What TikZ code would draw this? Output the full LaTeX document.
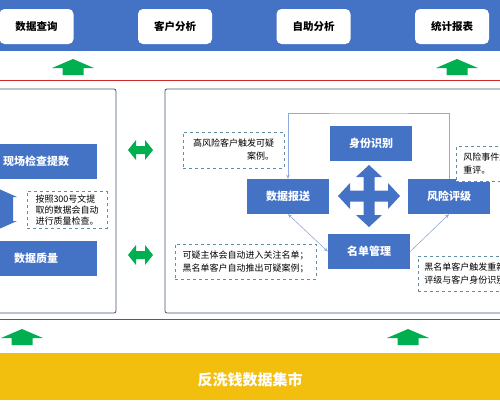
\documentclass[tikz,border=0pt]{standalone}
\usepackage{fontspec}
\setmainfont{Noto Sans CJK SC}
\usetikzlibrary{arrows.meta,positioning,calc}
\definecolor{amlblue}{HTML}{4472C4}
\definecolor{amlgreen}{HTML}{00B050}
\definecolor{amlyellow}{HTML}{F2BF0F}
\definecolor{amlred}{HTML}{D02A2A}
\definecolor{amlframe}{HTML}{44546A}
\definecolor{amlnote}{HTML}{5E8FA3}
\definecolor{amllink}{HTML}{8FAADC}
\tikzstyle{topbox} = [rectangle, fill=white, rounded corners=5pt, minimum width=74pt,
    minimum height=35pt, font=\fontsize{10.5}{12}\selectfont\bfseries]
\tikzstyle{block} = [rectangle, fill=amlblue, text=white, minimum width=82pt,
    minimum height=35pt, inner sep=0pt, font=\fontsize{11}{13}\selectfont\bfseries]
\tikzstyle{note} = [rectangle, draw=amlnote, dashed, thick, fill=white, minimum height=35pt,
    font=\fontsize{9}{13}\selectfont]
\tikzstyle{panel} = [draw=amlframe, thick, rounded corners=2pt]
\tikzstyle{link} = [amllink, semithick]
\tikzstyle{linktip} = [-{Stealth[length=4pt,width=3.5pt]}]

\begin{document}
\begin{tikzpicture}[x=1pt, y=-1pt]
\useasboundingbox (0,0) rectangle (500,400);
\clip (0,0) rectangle (500,400);

% top band
\fill[amlblue] (0,0) rectangle (500,51);
\node[topbox] (query) at (36.5,26.5) {数据查询};
\node[topbox] (cust) at (175,26.5) {客户分析};
\node[topbox] (self) at (313.5,26.5) {自助分析};
\node[topbox] (report) at (452,26.5) {统计报表};

% green up arrows
\foreach \cx/\yb in {73/75, 457/75, 22/345, 408/345}
  \fill[amlgreen] (\cx-10.5,\yb) -- (\cx-10.5,\yb-7) -- (\cx-21,\yb-7) -- (\cx,\yb-16)
    -- (\cx+21,\yb-7) -- (\cx+10.5,\yb-7) -- (\cx+10.5,\yb) -- cycle;

% red lines
\draw[amlred, semithick] (0,80) -- (500,80);
\draw[amlred, semithick] (0,319) -- (500,319);

% panels
\draw[panel] (-10,89) rectangle (116,313);
\draw[panel] (165,89) rectangle (510,313);

% left panel
\node[block, minimum width=122pt] (fetch) at (36,161.5) {现场检查提数};
\node[block, minimum width=122pt] (quality) at (36,258.5) {数据质量};
\fill[amlblue] (-1,189) -- (17,197) -- (13,197) -- (13,221) -- (17,221) -- (-1,229)
  -- (-19,221) -- (-15,221) -- (-15,197) -- (-19,197) -- cycle;
\node[note, minimum width=80pt, minimum height=34pt, inner sep=3pt, align=left,
  font=\fontsize{9}{11}\selectfont] (qnote) at (67,210) {按照300号文提\\取的数据会自动\\进行质量检查。};

% green double arrows
\foreach \cy in {150,255}
  \fill[amlgreen] (128,\cy) -- (136,\cy-10) -- (136,\cy-4) -- (145,\cy-4) -- (145,\cy-10)
    -- (153,\cy) -- (145,\cy+10) -- (145,\cy+4) -- (136,\cy+4) -- (136,\cy+10) -- cycle;

% right panel
\node[block] (ident) at (371,143.5) {身份识别};
\node[block] (send) at (288,196.5) {数据报送};
\node[block] (rate) at (449,196.5) {风险评级};
\node[block] (list) at (369,251.5) {名单管理};

\begin{scope}[shift={(369,196)}]
\fill[amlblue] (0,-31) -- (13,-19) -- (5.5,-19) -- (5.5,-5.5) -- (19,-5.5) -- (19,-13)
  -- (31,0) -- (19,13) -- (19,5.5) -- (5.5,5.5) -- (5.5,19) -- (13,19) -- (0,31)
  -- (-13,19) -- (-5.5,19) -- (-5.5,5.5) -- (-19,5.5) -- (-19,13) -- (-31,0)
  -- (-19,-13) -- (-19,-5.5) -- (-5.5,-5.5) -- (-5.5,-19) -- (-13,-19) -- cycle;
\end{scope}

\coordinate (loop) at (369,113);
\draw[link, linktip] (rate.north) |- (loop) -| (send.north);
\draw[link, {Stealth[length=4pt,width=3.5pt]}-{Stealth[length=4pt,width=3.5pt]}] (send.south) -- (list.west);
\draw[link, linktip] (list.east) -- (rate.south);

\node[note, minimum width=101pt, minimum height=36pt, align=right] (n1) at (233.5,150)
  {高风险客户触发可疑\\案例。};
\node[note, minimum width=141pt, align=left] (n2) at (245.5,261.5)
  {可疑主体会自动进入关注名单；\\黑名单客户自动推出可疑案例；};
\node[note, anchor=west, text width=70pt, inner sep=7pt, minimum height=34pt, align=left] (n3) at (456,164)
  {风险事件触发\\重评。};
\node[note, anchor=west, text width=92pt, inner sep=6pt, align=left] (n4) at (418,273.5)
  {黑名单客户触发重新\\评级与客户身份识别。};

% bottom band
\fill[amlyellow] (0,353) rectangle (500,400);
\node[text=white, font=\fontsize{15}{17}\selectfont\bfseries] (mart) at (250,380) {反洗钱数据集市};
\end{tikzpicture}
\end{document}
